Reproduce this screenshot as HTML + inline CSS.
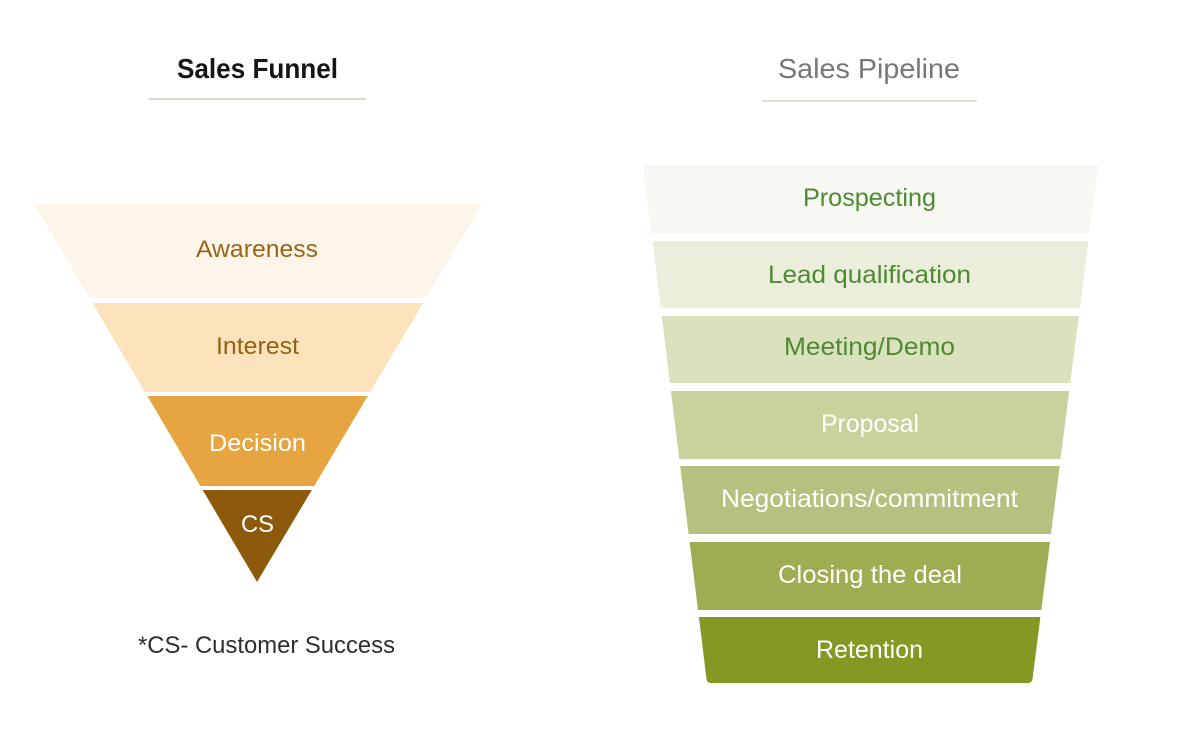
<!DOCTYPE html>
<html>
<head>
<meta charset="utf-8">
<style>
  html,body{margin:0;padding:0;background:#ffffff;}
  svg{display:block;}
  text{font-family:"Liberation Sans",sans-serif;}
</style>
</head>
<body>
<svg width="1200" height="752" viewBox="0 0 1200 752" xmlns="http://www.w3.org/2000/svg">
  <rect width="1200" height="752" fill="#ffffff"/>

  <!-- Titles -->
  <text x="177" y="78" font-size="28" font-weight="bold" fill="#151515" textLength="161" lengthAdjust="spacingAndGlyphs">Sales Funnel</text>
  <rect x="149" y="98" width="217" height="2" fill="#ddd8ce"/>
  <text x="778" y="78" font-size="28" fill="#777777" textLength="182" lengthAdjust="spacingAndGlyphs">Sales Pipeline</text>
  <rect x="762" y="100" width="215" height="2" fill="#e3ddd2"/>

  <!-- Sales Funnel -->
  <polygon points="34,204 482,204 426,298 89.5,298" fill="#fdf5ea"/>
  <polygon points="92.4,303 423.1,303 370.1,392 144.9,392" fill="#fce3bc"/>
  <polygon points="147.3,396 367.7,396 314.2,486 200.4,486" fill="#e6a540"/>
  <polygon points="202.7,490 311.8,490 257,582" fill="#8d5a0c"/>

  <text x="196" y="257" font-size="24" fill="#9a6415" textLength="122" lengthAdjust="spacingAndGlyphs">Awareness</text>
  <text x="216" y="354" font-size="24" fill="#93610f" textLength="83" lengthAdjust="spacingAndGlyphs">Interest</text>
  <text x="209" y="451" font-size="24" fill="#ffffff" textLength="97" lengthAdjust="spacingAndGlyphs">Decision</text>
  <text x="241" y="532" font-size="24" fill="#ffffff" textLength="33" lengthAdjust="spacingAndGlyphs">CS</text>

  <text x="138" y="653" font-size="24" fill="#2e2e2e" textLength="257" lengthAdjust="spacingAndGlyphs">*CS- Customer Success</text>

  <!-- Sales Pipeline -->
  <path d="M646,165 L1095,165 Q1098,165 1098,168 L1089.3,233 L651.4,233 L643,168 Q643,165 646,165 Z" fill="#f7f8f2"/>
  <polygon points="652.4,241 1088.3,241 1079.8,308 660.7,308" fill="#eceedc"/>
  <polygon points="661.7,316 1078.8,316 1070.2,383 669.9,383" fill="#dbe0bd"/>
  <polygon points="670.9,391 1069.2,391 1060.5,459 679.3,459" fill="#c9d29c"/>
  <polygon points="680.2,466 1059.7,466 1051,534 688.6,534" fill="#b6c17f"/>
  <polygon points="689.6,542 1050,542 1041.3,610 698,610" fill="#9fac51"/>
  <path d="M698.9,617 L1040.4,617 L1032.5,679 Q1032,683 1028,683 L711,683 Q707,683 706.5,679 Z" fill="#849823"/>

  <text x="803" y="206" font-size="25" fill="#4e8a32" textLength="133" lengthAdjust="spacingAndGlyphs">Prospecting</text>
  <text x="768" y="283" font-size="25" fill="#4e8a32" textLength="203" lengthAdjust="spacingAndGlyphs">Lead qualification</text>
  <text x="784" y="355" font-size="25" fill="#4e8a32" textLength="171" lengthAdjust="spacingAndGlyphs">Meeting/Demo</text>
  <text x="821" y="432" font-size="25" fill="#ffffff" textLength="98" lengthAdjust="spacingAndGlyphs">Proposal</text>
  <text x="721" y="507" font-size="25" fill="#ffffff" textLength="297" lengthAdjust="spacingAndGlyphs">Negotiations/commitment</text>
  <text x="778" y="583" font-size="25" fill="#ffffff" textLength="184" lengthAdjust="spacingAndGlyphs">Closing the deal</text>
  <text x="816" y="658" font-size="25" fill="#ffffff" textLength="107" lengthAdjust="spacingAndGlyphs">Retention</text>
</svg>
</body>
</html>
